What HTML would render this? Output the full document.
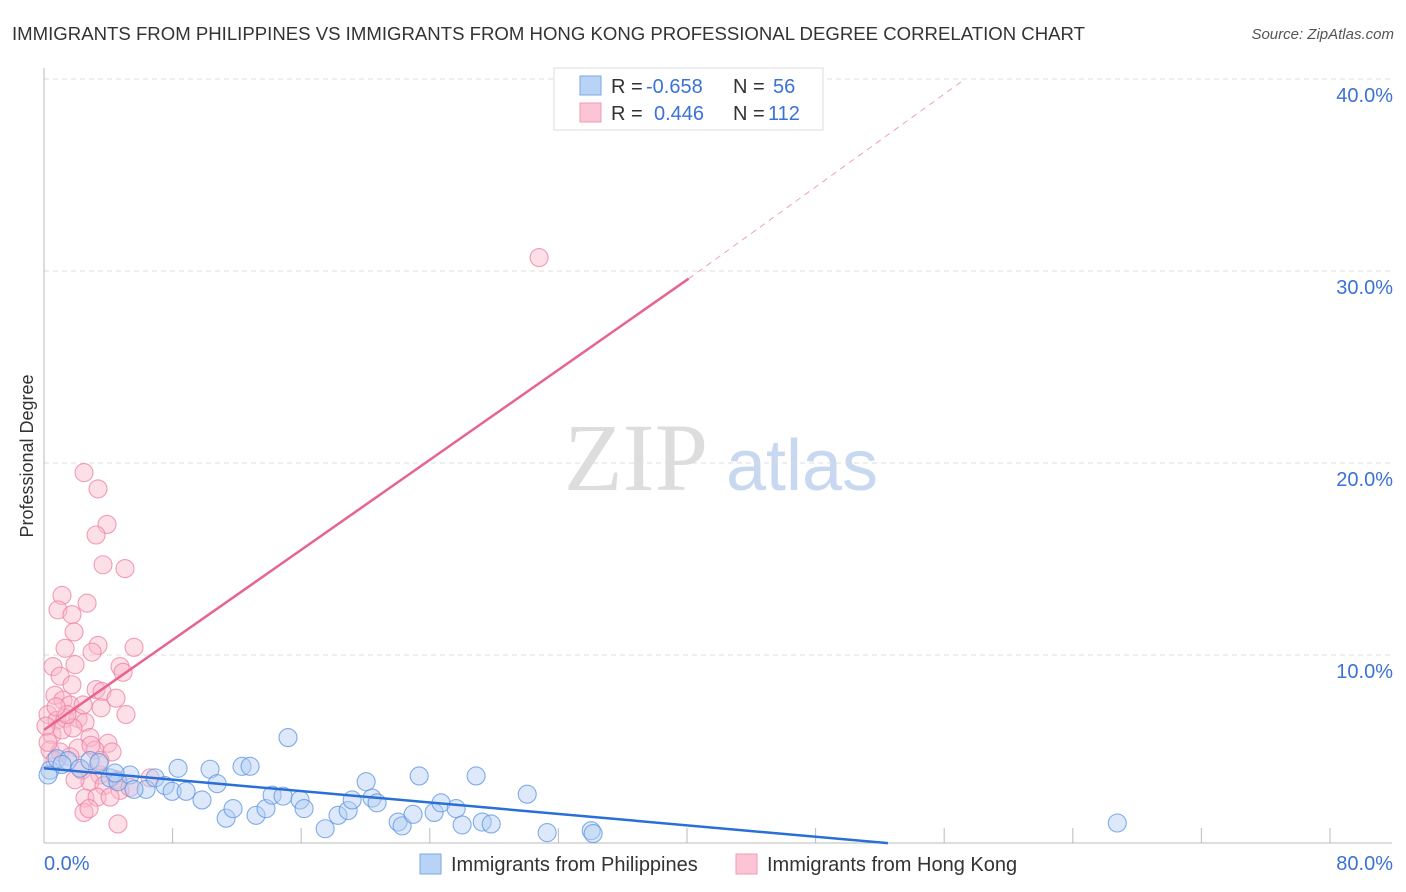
<!DOCTYPE html>
<html><head><meta charset="utf-8">
<style>
body{margin:0;background:#fff;font-family:"Liberation Sans",sans-serif;}
svg{display:block}
</style></head>
<body>
<svg id="chart" width="1406" height="892" xmlns="http://www.w3.org/2000/svg">
<text x="12" y="40" font-size="18" fill="#333" textLength="1073" lengthAdjust="spacingAndGlyphs">IMMIGRANTS FROM PHILIPPINES VS IMMIGRANTS FROM HONG KONG PROFESSIONAL DEGREE CORRELATION CHART</text>
<text x="1394" y="39" font-size="15" fill="#555" font-style="italic" text-anchor="end">Source: ZipAtlas.com</text>
<text transform="translate(33,456) rotate(-90)" font-size="18" fill="#333" text-anchor="middle">Professional Degree</text>
<text x="636" y="490" font-size="96" fill="#ddd" font-family="Liberation Serif,serif" text-anchor="middle">ZIP</text>
<text x="802" y="490" font-size="72" fill="#c8d8f0" text-anchor="middle">atlas</text>
<g id="grid"></g>
<g id="ticks"></g>
<g id="pts"></g>
<g id="lines"></g>
<g>
<rect x="554" y="68" width="269" height="62" fill="#fff" stroke="#ddd"/>
<rect x="580" y="76" width="21" height="19" fill="#b8d3f5" stroke="#7aa8e6"/>
<rect x="580" y="103" width="21" height="19" fill="#fcc5d5" stroke="#f09ab4"/>
<text x="611" y="93" font-size="20" fill="#333">R = <tspan x="646" fill="#3a72d8">-0.658</tspan></text>
<text x="733" y="93" font-size="20" fill="#333">N = <tspan x="773" fill="#3a72d8">56</tspan></text>
<text x="611" y="120" font-size="20" fill="#333">R = <tspan x="654" fill="#3a72d8">0.446</tspan></text>
<text x="733" y="120" font-size="20" fill="#333">N = <tspan x="768" fill="#3a72d8">112</tspan></text>
</g>
<g>
<rect x="420" y="854" width="21" height="20" fill="#b8d3f5" stroke="#7aa8e6"/>
<text x="451" y="871" font-size="20" fill="#333">Immigrants from Philippines</text>
<rect x="736" y="854" width="21" height="20" fill="#fcc5d5" stroke="#f09ab4"/>
<text x="767" y="871" font-size="20" fill="#333">Immigrants from Hong Kong</text>
</g>
</svg>
<script>
const blueX=[0.37,0.81,1.49,2.24,2.86,3.42,4.11,4.6,5.35,6.35,6.91,7.53,7.97,8.34,8.84,9.83,10.33,10.77,11.33,11.76,12.32,12.82,13.19,13.81,14.19,14.87,15.18,15.93,16.18,17.49,18.29,18.92,19.17,20.04,20.41,20.72,22.03,22.28,22.96,23.34,24.27,24.7,25.64,26.01,26.88,27.26,27.82,30.06,31.3,34.04,34.16,66.77,4.42,5.6,1.12,0.25];
const blueY=[4.0,4.6,4.5,4.1,4.5,4.4,3.6,3.4,3.75,3.0,3.6,3.2,2.9,4.1,2.9,2.45,4.05,3.3,1.5,2.0,4.2,4.2,1.65,2.0,2.7,2.65,5.7,2.45,2.0,0.95,1.65,1.9,2.45,3.4,2.55,2.3,1.3,1.1,1.7,3.7,1.8,2.3,2.0,1.15,3.7,1.3,1.2,2.75,0.75,0.85,0.7,1.25,3.85,3.0,4.3,3.75];
const pinkX=[2.49,3.36,3.92,3.24,3.67,5.04,1.12,2.68,0.87,1.74,1.87,3.36,5.6,1.31,2.99,0.56,1.0,1.93,4.73,4.92,3.24,3.61,4.48,0.68,1.18,1.62,3.55,5.1,0.25,0.81,1.31,2.12,2.55,0.5,1.12,1.8,2.86,3.98,0.37,1.0,2.12,3.17,4.23,0.68,1.62,2.36,3.48,4.54,2.86,3.73,4.73,5.35,6.6,2.55,3.3,4.11,2.49,2.8,4.6,1.74,1.43,2.43,0.25,0.12,0.75,3.48,2.92,1.93,30.8];
const pinkY=[19.5,18.65,16.8,16.25,14.7,14.5,13.1,12.7,12.35,12.1,11.2,10.5,10.4,10.35,10.15,9.4,8.9,9.5,9.4,9.1,8.2,8.1,7.75,7.9,7.65,7.4,7.25,6.9,6.9,6.6,6.7,6.7,6.5,5.85,6.1,6.2,5.7,5.4,5.05,4.95,5.15,5.05,4.95,4.5,4.7,4.0,3.75,3.5,3.4,3.2,2.95,3.1,3.6,2.55,2.6,2.6,1.8,2.0,1.2,8.45,6.9,7.4,5.45,6.3,7.3,4.5,5.3,3.5,30.7];
const yTicks=[10,20,30,40];
const yTickLabels=["10.0%","20.0%","30.0%","40.0%"];
const blueTrend=[[0,4.1],[52.5,0.2]];
const pinkTrend=[[0,6.1],[40.1,29.6]];
const pinkDash=[[40.1,29.6],[57.3,40]];

const X=v=>44+v*16.075;
const Y=v=>847-v*19.2;
const NS="http://www.w3.org/2000/svg";
function mk(tag,attrs,parent){const e=document.createElementNS(NS,tag);for(const k in attrs)e.setAttribute(k,attrs[k]);parent.appendChild(e);return e;}
const grid=document.getElementById('grid'),ticks=document.getElementById('ticks'),lines=document.getElementById('lines'),pts=document.getElementById('pts');
yTicks.forEach((t,i)=>{
 const l=mk('line',{x1:44,x2:1392,y1:Y(t),y2:Y(t),stroke:'#ddd','stroke-dasharray':'5,4'},grid);
 
 
 const tx=mk('text',{x:1393,y:Y(t)+23,'font-size':20,fill:'#3a72d8','text-anchor':'end'},ticks);
 tx.textContent=yTickLabels[i];
 
 
});
const ax=mk('line',{x1:44,x2:1392,y1:843,y2:843,stroke:'#bbb'},ticks);


const ay=mk('line',{x1:44,x2:44,y1:68,y2:843,stroke:'#bbb'},ticks);


for(let i=1;i<=10;i++){
 const t=mk('line',{x1:X(i*8),x2:X(i*8),y1:828,y2:843,stroke:'#bbb'},ticks);
 
 
}
const xl=mk('text',{x:44,y:870,'font-size':20,fill:'#3a72d8'},ticks);xl.textContent='0.0%';


const xr=mk('text',{x:1393,y:870,'font-size':20,fill:'#3a72d8','text-anchor':'end'},ticks);xr.textContent='80.0%';


function dot(x,y,f,s,name){const c=mk('circle',{cx:X(x),cy:Y(y),r:9,fill:f,'fill-opacity':0.45,stroke:s,'stroke-opacity':0.75,'stroke-width':1.1},pts);
 
 }
pinkX.forEach((x,i)=>dot(x,pinkY[i],'#fbb8cc','#ec7fa0','hongkong-point'));
blueX.forEach((x,i)=>dot(x,blueY[i],'#b3cff3','#5b93e0','philippines-point'));
function ln(p,st,w,dash,name){const l=mk('line',{x1:X(p[0][0]),y1:Y(p[0][1]),x2:X(p[1][0]),y2:Y(p[1][1]),stroke:st,'stroke-width':w},lines);
 if(dash)l.setAttribute('stroke-dasharray',dash);
 
 }
ln(pinkDash,'#f0a0b8',1,'6,5','hongkong-trend-extension');
ln(pinkTrend,'#e8648f',2.5,null,'hongkong-trendline');
ln(blueTrend,'#2a6fd6',2.5,null,'philippines-trendline');
</script>
</body></html>
